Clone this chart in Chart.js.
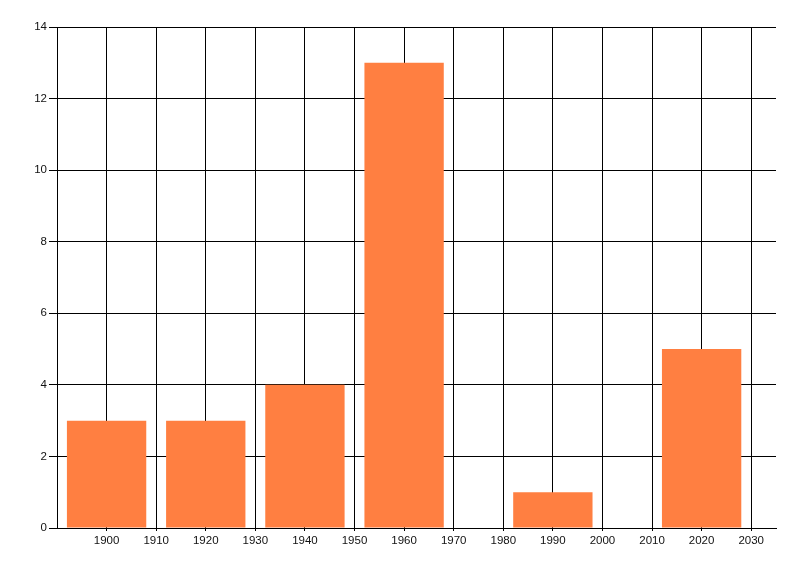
<!DOCTYPE html>
<html>
<head>
<meta charset="utf-8">
<script src="https://cdn.jsdelivr.net/npm/chart.js@4/dist/chart.umd.min.js"></script>
<style>
  html, body { margin: 0; padding: 0; background: #fff; }
  #chart { display: block; }
</style>
</head>
<body>
<canvas id="chart" width="800" height="576"></canvas>
<script>
// Dữ liệu biểu đồ
const years = [1900, 1920, 1940, 1960, 1990, 2020];
const counts = [3, 3, 4, 13, 1, 5];
const xTicks = [1900, 1910, 1920, 1930, 1940, 1950, 1960, 1970, 1980, 1990, 2000, 2010, 2020, 2030];
const yTicks = [0, 2, 4, 6, 8, 10, 12, 14];

const ctx = document.getElementById('chart').getContext('2d');
new Chart(ctx, {
  type: 'bar',
  data: {
    datasets: [{
      data: years.map((y, i) => ({ x: y, y: counts[i] })),
      backgroundColor: '#ff7f41',
      borderWidth: 0,
      inflateAmount: 0,
      // khoảng cách tối thiểu là 1 vạch (10 năm), cột rộng 16 năm
      barPercentage: 1.6,
      categoryPercentage: 1.0
    }]
  },
  options: {
    responsive: false,
    animation: false,
    layout: { padding: { top: 27, right: 24, left: 0, bottom: 0 } },
    plugins: {
      legend: { display: false },
      tooltip: { enabled: false }
    },
    scales: {
      x: {
        type: 'linear',
        min: 1890,
        max: 2035,
        offset: false,
        afterBuildTicks: function(scale) {
          scale.ticks = xTicks.map(v => ({ value: v }));
        },
        afterFit: function(scale) { scale.height = 48; },
        ticks: {
          color: '#111',
          font: { family: 'Liberation Sans', size: 11.5 },
          maxRotation: 0,
          padding: 3,
          callback: function(value) { return String(value); }
        },
        grid: { color: '#000', lineWidth: 1, tickLength: 3, offset: false },
        border: { color: '#000', width: 1 }
      },
      y: {
        min: 0,
        max: 14,
        afterBuildTicks: function(scale) {
          scale.ticks = yTicks.map(v => ({ value: v }));
        },
        afterFit: function(scale) { scale.width = 57; },
        ticks: {
          color: '#111',
          font: { family: 'Liberation Sans', size: 11.5 },
          padding: 2
        },
        grid: { color: '#000', lineWidth: 1, tickLength: 8 },
        border: { color: '#000', width: 1 }
      }
    }
  }
});
</script>
</body>
</html>
